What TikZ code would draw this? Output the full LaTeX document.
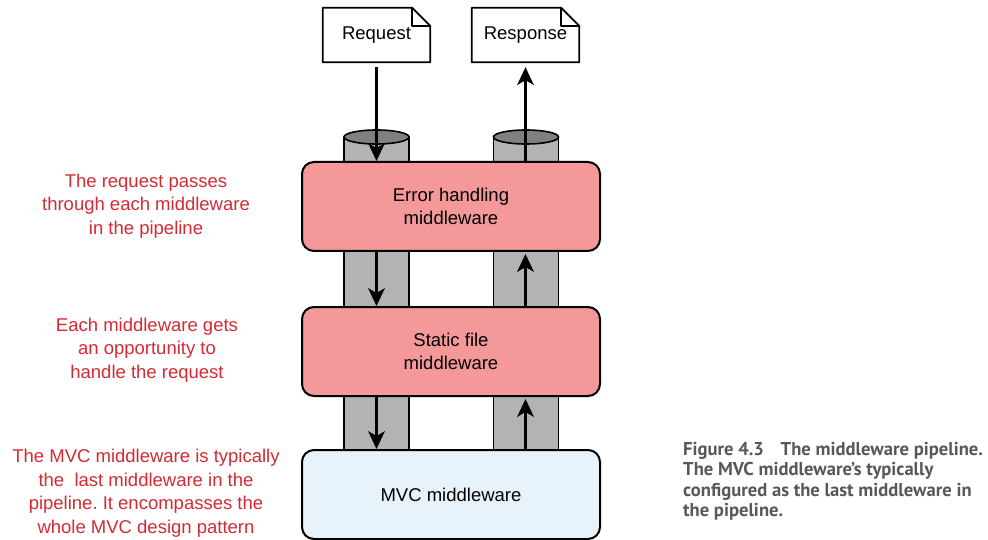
\documentclass[tikz,border=0pt]{standalone}
\usepackage{fontspec}
\setmainfont{Liberation Sans}
\newfontfamily\captionfont{PT Sans}
\usetikzlibrary{arrows.meta,backgrounds}
\definecolor{boxpink}{HTML}{F4989A}
\definecolor{boxblue}{HTML}{E8F2FA}
\definecolor{pipegray}{HTML}{B3B3B3}
\definecolor{pipetop}{HTML}{808080}
\definecolor{noteRed}{HTML}{D42A33}
\definecolor{capgray}{HTML}{585858}
\frenchspacing

\begin{document}
\begin{tikzpicture}[x=1pt,y=-1pt,
  stage/.style={draw=black, line width=2pt, rounded corners=12pt,
    minimum width=298pt, minimum height=89pt, align=center, inner sep=0pt,
    font=\fontsize{18.5}{23}\selectfont},
  doc/.style={minimum width=107pt, minimum height=54pt, inner sep=0pt,
    font=\fontsize{18.5}{23}\selectfont},
  docline/.style={line width=1.8pt, line join=round},
  note/.style={align=center, text=noteRed, inner sep=0pt,
    font=\fontsize{18.5}{23.5}\selectfont},
  flowarrow/.style={line width=2.2pt,
    -{Stealth[length=18pt,width=17pt,inset=5pt,line width=0pt]}},
  pipeedge/.style={line width=1.6pt}
]
\useasboundingbox (0,0) rectangle (988,540);

% pipe segments between stages (drawn first, stages cover their ends)
\foreach \cx in {376.5,526} {
  \fill[pipegray] (\cx-32.5,251) rectangle (\cx+32.5,307);
  \fill[pipegray] (\cx-32.5,396) rectangle (\cx+32.5,450);
  \draw[pipeedge] (\cx-32.5,251) -- (\cx-32.5,307) (\cx+32.5,251) -- (\cx+32.5,307);
  \draw[pipeedge] (\cx-32.5,396) -- (\cx-32.5,450) (\cx+32.5,396) -- (\cx+32.5,450);
  % open pipe ends on top
  \fill[pipegray] (\cx-32.5,137) rectangle (\cx+32.5,162);
  \draw[pipeedge] (\cx-32.5,137) -- (\cx-32.5,162) (\cx+32.5,137) -- (\cx+32.5,162);
  \draw[pipeedge, fill=pipetop] (\cx,137) ellipse [x radius=32.5pt, y radius=7pt];
}

% middleware stages
\node[stage, fill=boxpink] (err)  at (451,206.5) {Error handling\\middleware};
\node[stage, fill=boxpink] (stat) at (451,351.5) {Static file\\middleware};
\node[stage, fill=boxblue] (mvc)  at (451,494.5) {MVC middleware};

% request / response documents with a folded corner
\node[doc] (req)  at (376.5,35) {Request};
\node[doc] (resp) at (525.5,35) {Response};
\begin{scope}[on background layer]
\foreach \d in {req,resp} {
  \draw[docline, fill=white]
    (\d.north west) -- ([xshift=-18pt]\d.north east) -- ([yshift=-18pt]\d.north east)
    -- (\d.south east) -- (\d.south west) -- cycle;
  \draw[docline]
    ([xshift=-18pt]\d.north east) -- ([xshift=-18pt,yshift=-18pt]\d.north east)
    -- ([yshift=-18pt]\d.north east);
}
\end{scope}

% flow through the pipeline
\draw[flowarrow, shorten <=5pt] (req.south) -- (req.south |- err.north);
\draw[flowarrow] (err.south -| req.south) -- (stat.north -| req.south);
\draw[flowarrow] (stat.south -| req.south) -- (mvc.north -| req.south);
\draw[flowarrow, shorten >=2pt] (mvc.north -| resp.south) -- (stat.south -| resp.south);
\draw[flowarrow, shorten >=2pt] (stat.north -| resp.south) -- (err.south -| resp.south);
\draw[flowarrow, shorten >=5pt] (err.north -| resp.south) -- (resp.south);

% annotations
\node[note] (n1) at (146,206) {The request passes\\through each middleware\\in the pipeline};
\node[note] (n2) at (147,350) {Each middleware gets\\an opportunity to\\handle the request};
\node[note] (n3) at (146,493) {The MVC middleware is typically\\the\ \ last middleware in the\\pipeline. It encompasses the\\whole MVC design pattern};

% caption
\node[anchor=north west, align=left, inner sep=0pt, text=capgray,
  font=\captionfont\bfseries\fontsize{18.6}{20.5}\selectfont] (cap) at (683,442)
  {Figure 4.3\hspace{0.9em}The middleware pipeline.\\The MVC middleware’s typically\\configured as the last middleware in\\the pipeline.};
\end{tikzpicture}
\end{document}
